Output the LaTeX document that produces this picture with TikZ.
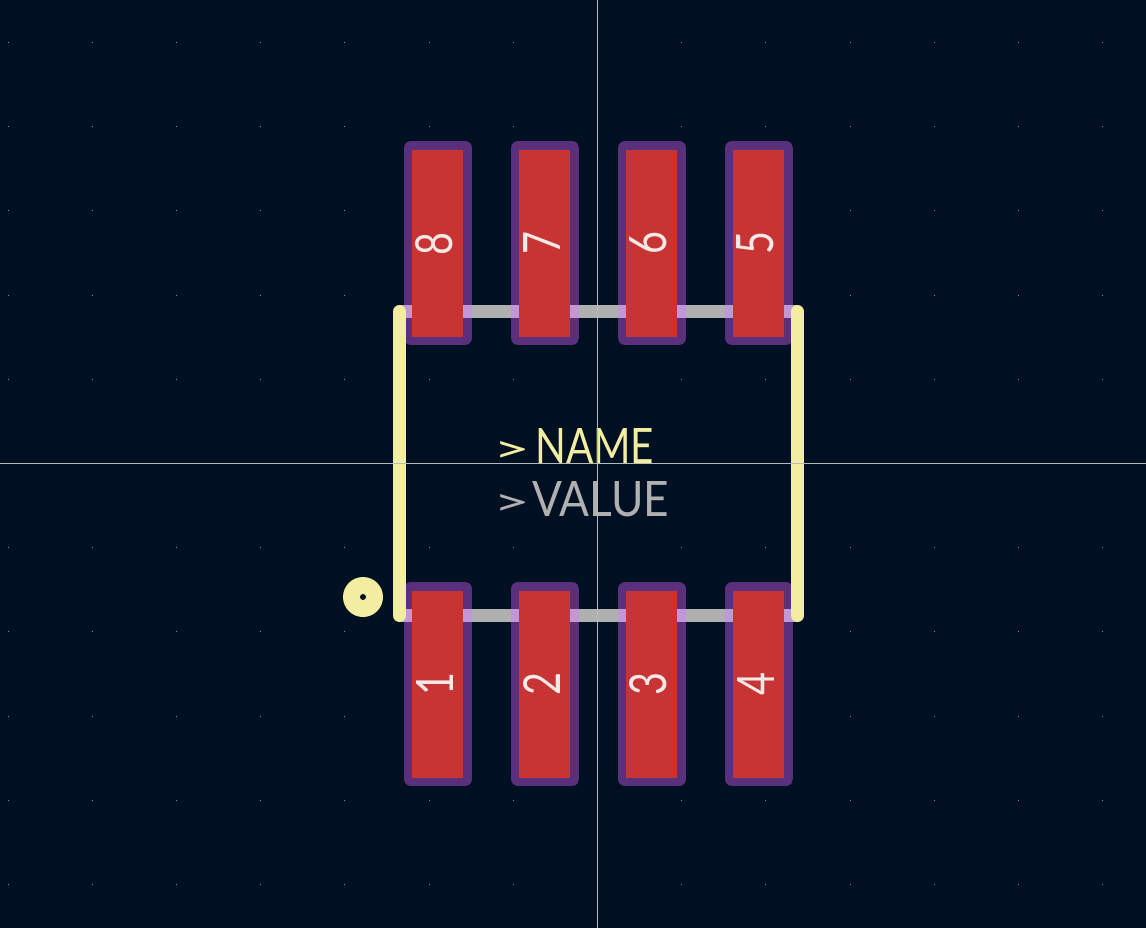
\documentclass[tikz,border=0pt]{standalone}
\usepackage{fontspec}
\usepackage{graphicx}
\setmainfont{Lato}
\definecolor{bgc}{HTML}{001023}
\definecolor{maskc}{HTML}{5A2F7C}
\definecolor{cuc}{HTML}{C83434}
\definecolor{silkc}{HTML}{F2EDA1}
\definecolor{bandc}{HTML}{B0B0B0}
\definecolor{overc}{HTML}{C197D8}
\definecolor{crossc}{HTML}{B4BAC0}
\definecolor{numc}{HTML}{F6E8E6}
\definecolor{dotc}{HTML}{8A9098}
\tikzset{
  x=1pt,y=-1pt,
  mask/.style={fill=maskc,rounded corners=7pt},
  copper/.style={fill=cuc},
  silkline/.style={draw=silkc,line width=13pt,line cap=round},
  crossline/.style={draw=crossc,line width=0.8pt},
  padnum/.style={inner sep=0pt,text=numc,rotate=90},
  reftext/.style={inner sep=0pt,anchor=south west},
}
\newcommand{\padbox}[5]{% x, top, bottom, band top, label
  \begin{scope}
    \clip[rounded corners=7pt] (#1,#2) rectangle (#1+68,#2+204);
    \fill[maskc] (#1,#2) rectangle (#1+68,#2+204);
    \fill[overc] (#1-5,#4) rectangle (#1+73,#4+13);
  \end{scope}
  \fill[copper] (#1+8,#2+9) rectangle (#1+59,#2+196);
}
\newcommand{\gt}{\raisebox{1pt}{\resizebox{37pt}{21pt}{>}}}
\begin{document}
\begin{tikzpicture}
\useasboundingbox (0,0) rectangle (1146,928);
\fill[bgc] (0,0) rectangle (1146,928);
% grid
\foreach \i in {-7,...,6}{\foreach \j in {-5,...,5}{
  \fill[dotc] (597.5+84.2*\i-0.5,463.5+84.2*\j-0.5) rectangle ++(1,1);
}}
% pad-row bands
\fill[bandc] (400,305) rectangle (797,318);
\fill[bandc] (400,609) rectangle (797,622);
% pads
\foreach \x in {404,511,618,725}{
  \padbox{\x}{141}{345}{305}{}
  \padbox{\x}{582}{786}{609}{}
}
% pad numbers
\foreach \n/\cx/\cy in {8/434.5/243.5,7/541.5/243,6/648.5/243,5/755.5/243,1/434.5/684,2/541.5/684,3/648.5/684,4/755.5/684}{
  \node[padnum] (p\n) at (\cx,\cy) {\resizebox{23pt}{37pt}{\n}};
}
% silk
\draw[silkline] (399.5,311.5) -- (399.5,615.5);
\draw[silkline] (797.5,311.5) -- (797.5,615.5);
\fill[silkc] (363,597) circle (20);
\fill[bgc] (363,597) circle (3);
% texts
\node[reftext,text=silkc] (name) at (493,463.5) {\gt\hspace{5pt}\resizebox{119pt}{35pt}{NAME}};
\node[reftext,text=bandc] (value) at (493,517.5) {\gt\hspace{2pt}\resizebox{137pt}{35pt}{VALUE}};
% crosshair
\draw[crossline] (597.5,0) -- (597.5,928);
\draw[crossline] (0,463.5) -- (1146,463.5);
\end{tikzpicture}
\end{document}
